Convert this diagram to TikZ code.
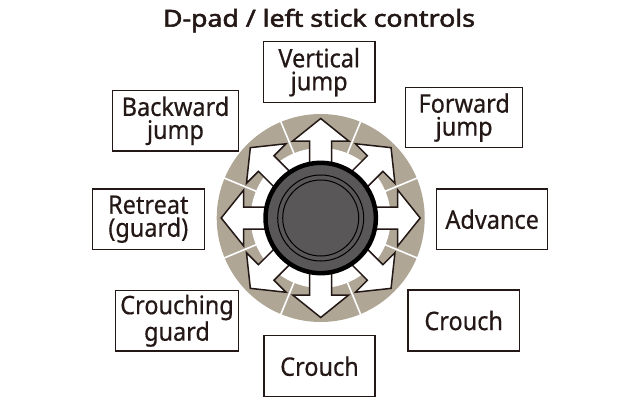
\documentclass[tikz,border=0pt]{standalone}
\usepackage{fontspec}
\setmainfont{Noto Sans}[FakeStretch=0.92, FakeBold=0.5]
\newfontfamily\titlefont{Noto Sans}[FakeStretch=1.14, FakeBold=2.2]
\definecolor{ink}{RGB}{35,24,21}
\definecolor{tan}{RGB}{176,166,150}
\definecolor{knob}{RGB}{89,87,87}
\tikzset{
  lbl/.style={draw=ink, line width=1.3pt, fill=white, text=ink, inner sep=0pt,
    align=center, font=\fontsize{25.5}{23}\selectfont},
  arr/.style={draw=ink, fill=white, line width=1.5pt, line join=miter},
  sep/.style={draw=white, line width=1.6pt},
}
\begin{document}
\begin{tikzpicture}[x=1pt,y=-1pt]
\useasboundingbox (0,0) rectangle (640,404);
\coordinate (c) at (320.7,218);
% title
\node[anchor=base, text=ink, inner sep=0pt, font=\titlefont\fontsize{23.4}{26}\selectfont] (title) at (319,26.7) {D-pad / left stick controls};
% ring
\fill[tan] (c) circle[radius=104];
\fill[white] (c) circle[radius=70];
\foreach \a in {22.5,67.5,...,337.5}
  \draw[sep] ([shift={(\a:69)}]c) -- ([shift={(\a:105)}]c);
% arrows
\foreach \a in {0,45,...,315}
  \draw[arr, shift={(c)}, rotate=\a]
    (48,-11) -- (77,-11) -- (77,-28) -- (99.5,0) -- (77,28) -- (77,11) -- (48,11) -- cycle;
% knob
\draw[fill=knob, draw=black, line width=4.5pt] (c) circle[radius=55.2];
\draw[black, line width=1pt] (c) circle[radius=43];
\draw[black, line width=1pt] (c) circle[radius=38];
% labels
\node[lbl, minimum width=111.7pt, minimum height=61pt] (vjump) at (319.2,72.2) {Vertical\\jump};
\node[lbl, minimum width=126.3pt, minimum height=60.4pt] (bjump) at (175.5,120.8) {Backward\\jump};
\node[lbl, minimum width=117pt, minimum height=60.3pt] (fjump) at (464.2,117.5) {Forward\\jump};
\node[lbl, minimum width=111pt, minimum height=60.4pt] (adv) at (492.2,219.2) {Advance};
\node[lbl, minimum width=112pt, minimum height=60.4pt] (retreat) at (148.3,219.2) {Retreat\\(guard)};
\node[lbl, minimum width=122.7pt, minimum height=60.4pt] (cguard) at (177,320.8) {Crouching\\guard};
\node[lbl, minimum width=111.4pt, minimum height=61.1pt] (crouchr) at (463.7,320.5) {Crouch};
\node[lbl, minimum width=111.1pt, minimum height=61pt] (crouchb) at (319.5,366.2) {Crouch};
\end{tikzpicture}
\end{document}
